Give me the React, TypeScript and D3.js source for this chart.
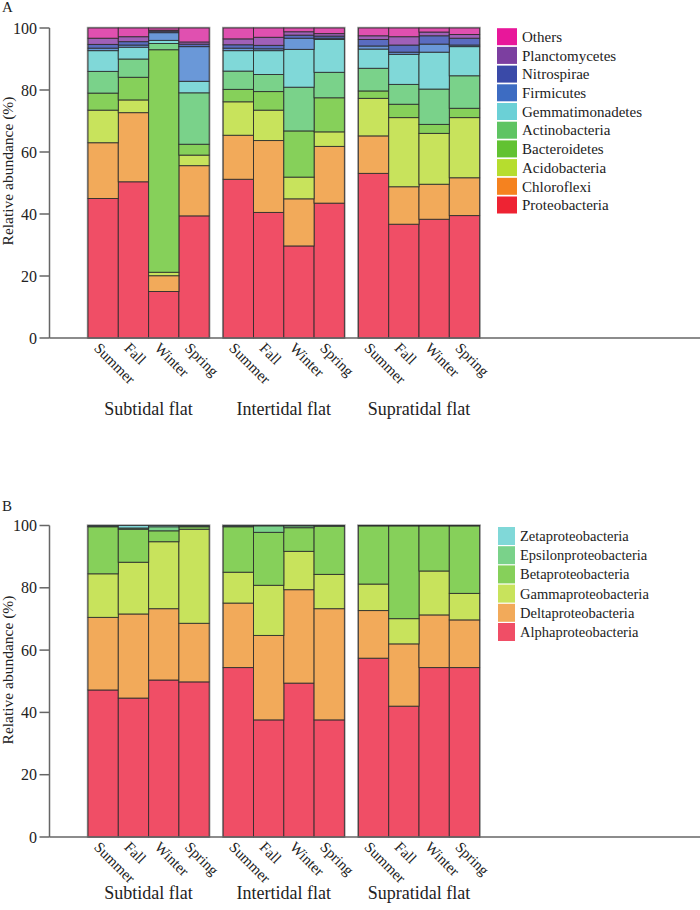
import React from 'react';
import * as d3 from 'd3';

const groups = ['Subtidal flat', 'Intertidal flat', 'Supratidal flat'];
const seasons = ['Summer', 'Fall', 'Winter', 'Spring'];
const yTicks = [0, 20, 40, 60, 80, 100];

// Panel A: phyla (bottom to top), 12 bars: group-major, seasons Summer/Fall/Winter/Spring
const phylaA = ['Proteobacteria', 'Chloroflexi', 'Acidobacteria', 'Bacteroidetes', 'Actinobacteria', 'Gemmatimonadetes', 'Firmicutes', 'Nitrospirae', 'Planctomycetes', 'Others'];
const proteobacteria = [45, 50.4, 15, 39.4, 51.2, 40.5, 29.7, 43.5, 53.1, 36.7, 38.3, 39.5];
const chloroflexi = [18, 22.3, 5.1, 16.2, 14.2, 23.2, 15.2, 18.3, 12.1, 12.1, 11.3, 12.2];
const acidobacteria = [10.5, 4.1, 1.1, 3.4, 10.8, 9.8, 7.0, 4.7, 12.1, 22.3, 16.4, 19.4];
const bacteroidetes = [5.5, 7.3, 71.8, 3.5, 4.0, 6.0, 14.9, 11.0, 2.4, 4.3, 2.9, 3.0];
const actinobacteria = [7, 5.9, 2.0, 16.6, 5.9, 5.5, 14.1, 8.2, 7.3, 6.4, 11.4, 10.5];
const gemmatimonadetes = [6.7, 3.8, 1.0, 3.7, 6.6, 7.7, 12.2, 10.6, 6.2, 9.7, 11.9, 9.4];
const firmicutes = [0.8, 0.7, 2.5, 11.2, 0.8, 0.6, 3.6, 0.4, 1.0, 0.7, 2.6, 0.5];
const nitrospirae = [1.2, 1.1, 0.5, 0.8, 1.1, 1.1, 1.0, 0.7, 2.1, 2.3, 2.7, 2.2];
const planctomycetes = [2, 1.6, 0.3, 0.7, 1.9, 2.6, 1.1, 0.8, 1.2, 2.7, 1.2, 1.2];
const othersA = [3.3, 2.8, 0.7, 4.5, 3.5, 3.0, 1.2, 1.8, 2.5, 2.8, 1.3, 2.1];
const valuesA = [proteobacteria, chloroflexi, acidobacteria, bacteroidetes, actinobacteria, gemmatimonadetes, firmicutes, nitrospirae, planctomycetes, othersA];
const barColorsA = ['#f04e66', '#f2aa5a', '#c8e35c', '#86d05a', '#7ad28a', '#80d8d8', '#6a98d8', '#5a6cc0', '#a060b8', '#e050b0'];
const legendColorsA = ['#ee2333', '#f5821f', '#b6dd2e', '#62c232', '#5ec462', '#6bd0d6', '#3d6cc2', '#3a4aa8', '#7c3fa0', '#e8179a'];

// Panel B: Proteobacteria classes (bottom to top)
const classesB = ['Alphaproteobacteria', 'Deltaproteobacteria', 'Gammaproteobacteria', 'Betaproteobacteria', 'Epsilonproteobacteria', 'Zetaproteobacteria'];
const alpha = [47.2, 44.6, 50.4, 49.8, 54.4, 37.6, 49.4, 37.6, 57.4, 42.0, 54.4, 54.4];
const delta = [23.3, 27.0, 22.9, 18.8, 20.7, 27.1, 30.0, 35.7, 15.3, 20.0, 16.9, 15.3];
const gamma = [14.0, 16.6, 21.5, 30.2, 9.9, 16.1, 12.3, 11.0, 8.5, 8.1, 14.1, 8.5];
const beta = [15.1, 10.6, 3.5, 0.8, 14.6, 17.0, 7.6, 15.5, 18.7, 29.8, 14.5, 21.7];
const epsilon = [0.2, 0.4, 1.3, 0.2, 0.2, 2.1, 0.6, 0.1, 0.05, 0.05, 0.05, 0.05];
const zeta = [0.2, 0.8, 0.4, 0.2, 0.2, 0.1, 0.1, 0.1, 0.05, 0.05, 0.05, 0.05];
const valuesB = [alpha, delta, gamma, beta, epsilon, zeta];
const barColorsB = ['#f04e66', '#f2aa5a', '#c8e35c', '#86d05a', '#7ad28a', '#80d8d8'];
const legendColorsB = ['#f04e66', '#f2aa5a', '#c8e35c', '#86d05a', '#7ad28a', '#80d8d8'];

const FONT = '"Liberation Serif", "Times New Roman", serif';

type PanelProps = {
  label: string;
  labelY: number;
  yRange: [number, number];
  names: string[];
  values: number[][];
  barColors: string[];
  legendColors: string[];
  legendX: number;
  legendTextX: number;
  legendY0: number;
  legendStep: number;
  legendW: number;
  legendH: number;
  legendFont: number;
  titleY: number;
  groupLabelY: number;
};

function Panel(p: PanelProps) {
  const y = d3.scaleLinear().domain([0, 100]).range(p.yRange);
  const gx = d3.scaleBand<string>().domain(groups).range([88, 479.6]).paddingInner(0.1036).paddingOuter(0);
  const sx = d3.scaleBand<string>().domain(seasons).range([0, gx.bandwidth()]);
  const rows = groups.flatMap((g, gi) =>
    seasons.map((s, si) => {
      const r: any = { group: g, season: s };
      p.names.forEach((n, k) => (r[n] = p.values[k][gi * 4 + si]));
      return r;
    })
  );
  const stacked = d3.stack<any>().keys(p.names)(rows);
  const axisX = 49.5;
  const y0 = y(0);
  const y100 = y(100);
  return (
    <g>
      <text x={2} y={p.labelY} fontSize={15} fontFamily={FONT} fill="#222">{p.label}</text>
      {groups.map((g) => (
        <rect key={g} x={(gx(g) as number) - 0.5} y={y100 - 0.5} width={gx.bandwidth() + 1} height={y0 - y100 + 0.5}
          fill="none" stroke="#a8a8a8" strokeWidth={1.5} />
      ))}
      {stacked.map((layer, li) => (
        <g key={p.names[li]}>
          {layer.map((d, i) => {
            const r = rows[i];
            const x = (gx(r.group) as number) + (sx(r.season) as number);
            const yt = y(d[1]);
            const yb = y(d[0]);
            return (
              <rect key={i} x={x} y={yt} width={sx.bandwidth()} height={Math.max(0, yb - yt)}
                fill={p.barColors[li]} stroke="#2a2a2a" strokeOpacity={0.85} strokeWidth={1} />
            );
          })}
        </g>
      ))}
      <line x1={axisX} x2={axisX} y1={y100} y2={y0} stroke="#666" strokeWidth={1.5} />
      {yTicks.map((t) => (
        <g key={t}>
          <line x1={axisX - 10} x2={axisX} y1={y(t)} y2={y(t)} stroke="#666" strokeWidth={1.5} />
          <text x={37} y={y(t)} dy="0.35em" textAnchor="end" fontSize={16} fontFamily={FONT} fill="#222">{t}</text>
        </g>
      ))}
      <text transform={`translate(13,${p.titleY}) rotate(-90)`} textAnchor="middle" fontSize={15.5} fontFamily={FONT} fill="#222">
        Relative abundance (%)
      </text>
      <line x1={axisX} x2={700} y1={y0} y2={y0} stroke="#666" strokeWidth={1.5} />
      {rows.map((r, i) => {
        const cx = (gx(r.group) as number) + (sx(r.season) as number) + sx.bandwidth() / 2;
        return (
          <text key={i} transform={`translate(${cx - 10},${y0 + 11}) rotate(45)`} fontSize={15} fontFamily={FONT} fill="#222">
            {r.season}
          </text>
        );
      })}
      {groups.map((g) => (
        <text key={g} x={(gx(g) as number) + gx.bandwidth() / 2} y={p.groupLabelY} textAnchor="middle" fontSize={18} fontFamily={FONT} fill="#222">
          {g}
        </text>
      ))}
      {p.names.slice().reverse().map((n, i) => {
        const k = p.names.length - 1 - i;
        const cy = p.legendY0 + i * p.legendStep;
        return (
          <g key={n}>
            <rect x={p.legendX} y={cy - p.legendH / 2} width={p.legendW} height={p.legendH} fill={p.legendColors[k]} />
            <text x={p.legendTextX} y={cy} dy="0.35em" fontSize={p.legendFont} fontFamily={FONT} fill="#222">{n}</text>
          </g>
        );
      })}
    </g>
  );
}

export default function App() {
  return (
    <svg width={700} height={910} style={{ position: 'absolute', left: 0, top: 0, background: '#fff' }}>
      <rect width={700} height={910} fill="#fff" />
      <Panel label="A" labelY={12} yRange={[338, 28]} names={phylaA} values={valuesA} barColors={barColorsA}
        legendColors={legendColorsA} legendX={497} legendTextX={522} legendY0={36.7} legendStep={18.7}
        legendW={20} legendH={17} legendFont={15} titleY={171} groupLabelY={415} />
      <Panel label="B" labelY={511} yRange={[837, 525.5]} names={classesB} values={valuesB} barColors={barColorsB}
        legendColors={legendColorsB} legendX={498} legendTextX={520} legendY0={536} legendStep={19.2}
        legendW={17} legendH={18} legendFont={14.5} titleY={670} groupLabelY={899} />
    </svg>
  );
}
